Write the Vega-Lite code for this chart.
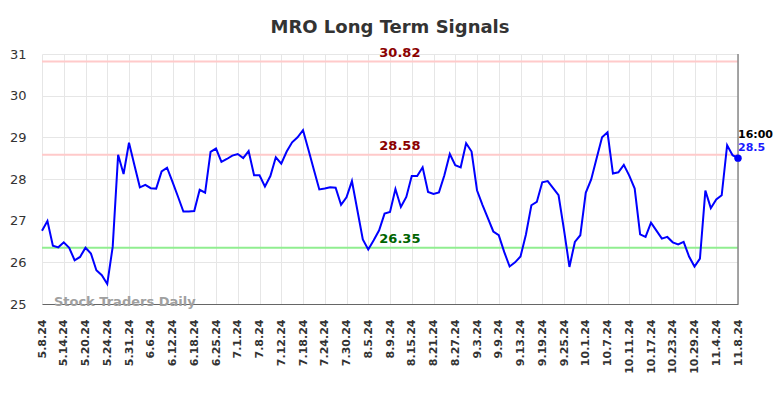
{
  "$schema": "https://vega.github.io/schema/vega-lite/v6.json",
  "width": 696,
  "height": 250,
  "autosize": {"type": "none"},
  "padding": {"left": 42, "top": 54, "right": 46, "bottom": 94},
  "title": {"text": "MRO Long Term Signals", "font": "DejaVu Sans", "fontSize": 18, "fontWeight": "bold", "color": "#333333", "anchor": "middle", "offset": 10},
  "config": {
    "view": {"stroke": null},
    "font": "DejaVu Sans",
    "axisX": {"labelAngle": -90, "labelFontWeight": "bold", "labelFontSize": 11, "labelColor": "#333333", "ticks": false, "domainColor": "#666666", "gridColor": "#e6e6e6", "grid": true, "labelPadding": 15, "title": null},
    "axisY": {"ticks": false, "domain": false, "labelFontSize": 13, "labelColor": "#333333", "gridColor": "#e6e6e6", "grid": true, "labelPadding": 16, "title": null}
  },
  "datasets": {
    "prices": [
      {"date": "5.8.24", "close": 26.76}, {"date": "5.9.24", "close": 26.99}, {"date": "5.10.24", "close": 26.40}, {"date": "5.13.24", "close": 26.36},
      {"date": "5.14.24", "close": 26.48}, {"date": "5.15.24", "close": 26.35}, {"date": "5.16.24", "close": 26.05}, {"date": "5.17.24", "close": 26.13},
      {"date": "5.20.24", "close": 26.35}, {"date": "5.21.24", "close": 26.21}, {"date": "5.22.24", "close": 25.81}, {"date": "5.23.24", "close": 25.69},
      {"date": "5.24.24", "close": 25.48}, {"date": "5.28.24", "close": 26.37}, {"date": "5.29.24", "close": 28.58}, {"date": "5.30.24", "close": 28.12},
      {"date": "5.31.24", "close": 28.87}, {"date": "6.3.24", "close": 28.33}, {"date": "6.4.24", "close": 27.80}, {"date": "6.5.24", "close": 27.86},
      {"date": "6.6.24", "close": 27.78}, {"date": "6.7.24", "close": 27.77}, {"date": "6.10.24", "close": 28.18}, {"date": "6.11.24", "close": 28.27},
      {"date": "6.12.24", "close": 27.93}, {"date": "6.13.24", "close": 27.58}, {"date": "6.14.24", "close": 27.22}, {"date": "6.17.24", "close": 27.22},
      {"date": "6.18.24", "close": 27.23}, {"date": "6.20.24", "close": 27.74}, {"date": "6.21.24", "close": 27.67}, {"date": "6.24.24", "close": 28.65},
      {"date": "6.25.24", "close": 28.73}, {"date": "6.26.24", "close": 28.41}, {"date": "6.27.24", "close": 28.48}, {"date": "6.28.24", "close": 28.56},
      {"date": "7.1.24", "close": 28.60}, {"date": "7.2.24", "close": 28.50}, {"date": "7.3.24", "close": 28.67}, {"date": "7.5.24", "close": 28.09},
      {"date": "7.8.24", "close": 28.09}, {"date": "7.9.24", "close": 27.82}, {"date": "7.10.24", "close": 28.07}, {"date": "7.11.24", "close": 28.52},
      {"date": "7.12.24", "close": 28.37}, {"date": "7.15.24", "close": 28.66}, {"date": "7.16.24", "close": 28.88}, {"date": "7.17.24", "close": 29.00},
      {"date": "7.18.24", "close": 29.17}, {"date": "7.19.24", "close": 28.70}, {"date": "7.22.24", "close": 28.22}, {"date": "7.23.24", "close": 27.75},
      {"date": "7.24.24", "close": 27.77}, {"date": "7.25.24", "close": 27.80}, {"date": "7.26.24", "close": 27.79}, {"date": "7.29.24", "close": 27.38},
      {"date": "7.30.24", "close": 27.56}, {"date": "7.31.24", "close": 27.95}, {"date": "8.1.24", "close": 27.25}, {"date": "8.2.24", "close": 26.55},
      {"date": "8.5.24", "close": 26.31}, {"date": "8.6.24", "close": 26.53}, {"date": "8.7.24", "close": 26.77}, {"date": "8.8.24", "close": 27.17},
      {"date": "8.9.24", "close": 27.21}, {"date": "8.12.24", "close": 27.76}, {"date": "8.13.24", "close": 27.33}, {"date": "8.14.24", "close": 27.57},
      {"date": "8.15.24", "close": 28.07}, {"date": "8.16.24", "close": 28.07}, {"date": "8.19.24", "close": 28.28}, {"date": "8.20.24", "close": 27.69},
      {"date": "8.21.24", "close": 27.64}, {"date": "8.22.24", "close": 27.68}, {"date": "8.23.24", "close": 28.09}, {"date": "8.26.24", "close": 28.60},
      {"date": "8.27.24", "close": 28.33}, {"date": "8.28.24", "close": 28.28}, {"date": "8.29.24", "close": 28.86}, {"date": "8.30.24", "close": 28.66},
      {"date": "9.3.24", "close": 27.73}, {"date": "9.4.24", "close": 27.38}, {"date": "9.5.24", "close": 27.06}, {"date": "9.6.24", "close": 26.74},
      {"date": "9.9.24", "close": 26.65}, {"date": "9.10.24", "close": 26.25}, {"date": "9.11.24", "close": 25.90}, {"date": "9.12.24", "close": 26.00},
      {"date": "9.13.24", "close": 26.14}, {"date": "9.16.24", "close": 26.67}, {"date": "9.17.24", "close": 27.37}, {"date": "9.18.24", "close": 27.45},
      {"date": "9.19.24", "close": 27.92}, {"date": "9.20.24", "close": 27.95}, {"date": "9.23.24", "close": 27.78}, {"date": "9.24.24", "close": 27.61},
      {"date": "9.25.24", "close": 26.78}, {"date": "9.26.24", "close": 25.89}, {"date": "9.27.24", "close": 26.49}, {"date": "9.30.24", "close": 26.65},
      {"date": "10.1.24", "close": 27.67}, {"date": "10.2.24", "close": 27.99}, {"date": "10.3.24", "close": 28.50}, {"date": "10.4.24", "close": 29.00},
      {"date": "10.7.24", "close": 29.12}, {"date": "10.8.24", "close": 28.13}, {"date": "10.9.24", "close": 28.16}, {"date": "10.10.24", "close": 28.34},
      {"date": "10.11.24", "close": 28.08}, {"date": "10.14.24", "close": 27.77}, {"date": "10.15.24", "close": 26.67}, {"date": "10.16.24", "close": 26.61},
      {"date": "10.17.24", "close": 26.95}, {"date": "10.18.24", "close": 26.76}, {"date": "10.21.24", "close": 26.57}, {"date": "10.22.24", "close": 26.61},
      {"date": "10.23.24", "close": 26.48}, {"date": "10.24.24", "close": 26.43}, {"date": "10.25.24", "close": 26.49}, {"date": "10.28.24", "close": 26.14},
      {"date": "10.29.24", "close": 25.90}, {"date": "10.30.24", "close": 26.09}, {"date": "10.31.24", "close": 27.72}, {"date": "11.1.24", "close": 27.30},
      {"date": "11.4.24", "close": 27.51}, {"date": "11.5.24", "close": 27.61}, {"date": "11.6.24", "close": 28.81}, {"date": "11.7.24", "close": 28.57},
      {"date": "11.8.24", "close": 28.50}
    ],
    "levels": [
      {"level": 30.82, "kind": "resistance"},
      {"level": 28.58, "kind": "resistance"},
      {"level": 26.35, "kind": "support"}
    ]
  },
  "layer": [
    {
      "data": {"name": "levels"},
      "mark": {"type": "rule", "strokeWidth": 2},
      "encoding": {
        "y": {"field": "level", "type": "quantitative", "scale": {"domain": [25, 31], "nice": false, "zero": false}, "axis": {"values": [25, 26, 27, 28, 29, 30, 31]}, "title": null},
        "color": {"condition": {"test": "datum.kind === 'support'", "value": "#90ee90"}, "value": "#ffcaca"}
      }
    },
    {
      "data": {"name": "prices"},
      "mark": {"type": "line", "color": "#0000ff", "strokeWidth": 2},
      "encoding": {
        "x": {
          "field": "date", "type": "ordinal", "sort": null, "title": null,
          "scale": {"type": "point", "padding": 0, "domain": ["5.8.24","5.9.24","5.10.24","5.13.24","5.14.24","5.15.24","5.16.24","5.17.24","5.20.24","5.21.24","5.22.24","5.23.24","5.24.24","5.28.24","5.29.24","5.30.24","5.31.24","6.3.24","6.4.24","6.5.24","6.6.24","6.7.24","6.10.24","6.11.24","6.12.24","6.13.24","6.14.24","6.17.24","6.18.24","6.20.24","6.21.24","6.24.24","6.25.24","6.26.24","6.27.24","6.28.24","7.1.24","7.2.24","7.3.24","7.5.24","7.8.24","7.9.24","7.10.24","7.11.24","7.12.24","7.15.24","7.16.24","7.17.24","7.18.24","7.19.24","7.22.24","7.23.24","7.24.24","7.25.24","7.26.24","7.29.24","7.30.24","7.31.24","8.1.24","8.2.24","8.5.24","8.6.24","8.7.24","8.8.24","8.9.24","8.12.24","8.13.24","8.14.24","8.15.24","8.16.24","8.19.24","8.20.24","8.21.24","8.22.24","8.23.24","8.26.24","8.27.24","8.28.24","8.29.24","8.30.24","9.3.24","9.4.24","9.5.24","9.6.24","9.9.24","9.10.24","9.11.24","9.12.24","9.13.24","9.16.24","9.17.24","9.18.24","9.19.24","9.20.24","9.23.24","9.24.24","9.25.24","9.26.24","9.27.24","9.30.24","10.1.24","10.2.24","10.3.24","10.4.24","10.7.24","10.8.24","10.9.24","10.10.24","10.11.24","10.14.24","10.15.24","10.16.24","10.17.24","10.18.24","10.21.24","10.22.24","10.23.24","10.24.24","10.25.24","10.28.24","10.29.24","10.30.24","10.31.24","11.1.24","11.4.24","11.5.24","11.6.24","11.7.24","11.8.24"]},
          "axis": {"values": ["5.8.24","5.14.24","5.20.24","5.24.24","5.31.24","6.6.24","6.12.24","6.18.24","6.25.24","7.1.24","7.8.24","7.12.24","7.18.24","7.24.24","7.30.24","8.5.24","8.9.24","8.15.24","8.21.24","8.27.24","9.3.24","9.9.24","9.13.24","9.19.24","9.25.24","10.1.24","10.7.24","10.11.24","10.17.24","10.23.24","10.29.24","11.4.24","11.8.24"]}
        },
        "y": {"field": "close", "type": "quantitative", "title": null}
      }
    },
    {
      "data": {"name": "levels"},
      "mark": {"type": "text", "fontSize": 13, "fontWeight": "bold", "align": "center", "baseline": "alphabetic", "dy": -5, "dx": -1},
      "encoding": {
        "x": {"datum": "8.13.24"},
        "y": {"field": "level", "type": "quantitative", "title": null},
        "text": {"field": "level", "type": "quantitative", "format": ".2f"},
        "color": {"condition": {"test": "datum.kind === 'support'", "value": "#006400"}, "value": "#8b0000"}
      }
    },
    {
      "data": {"values": [{"label": "Stock Traders Daily"}]},
      "mark": {"type": "text", "fontSize": 13, "fontWeight": "bold", "align": "left", "baseline": "alphabetic", "dx": 1, "dy": 2, "color": "#a0a0a0"},
      "encoding": {
        "x": {"datum": "5.10.24"},
        "y": {"datum": 25},
        "text": {"field": "label"}
      }
    },
    {
      "data": {"values": [{}]},
      "mark": {"type": "rule", "color": "#888888", "strokeWidth": 1.5},
      "encoding": {"x": {"datum": "11.8.24"}}
    },
    {
      "data": {"name": "prices"},
      "transform": [{"filter": "datum.date === '11.8.24'"}],
      "mark": {"type": "point", "filled": true, "size": 55, "color": "#0000ff", "opacity": 1},
      "encoding": {
        "x": {"field": "date", "type": "ordinal", "title": null},
        "y": {"field": "close", "type": "quantitative", "title": null}
      }
    },
    {
      "data": {"name": "prices"},
      "transform": [{"filter": "datum.date === '11.8.24'"}],
      "mark": {"type": "text", "fontSize": 11, "fontWeight": "bold", "align": "left", "baseline": "alphabetic", "dy": -20, "color": "#000000", "text": "16:00"},
      "encoding": {
        "x": {"field": "date", "type": "ordinal", "title": null},
        "y": {"field": "close", "type": "quantitative", "title": null}
      }
    },
    {
      "data": {"name": "prices"},
      "transform": [{"filter": "datum.date === '11.8.24'"}],
      "mark": {"type": "text", "fontSize": 11, "fontWeight": "bold", "align": "left", "baseline": "alphabetic", "dy": -7, "color": "#1a1aff"},
      "encoding": {
        "x": {"field": "date", "type": "ordinal", "title": null},
        "y": {"field": "close", "type": "quantitative", "title": null},
        "text": {"field": "close", "type": "quantitative", "format": ".1f"}
      }
    }
  ]
}
